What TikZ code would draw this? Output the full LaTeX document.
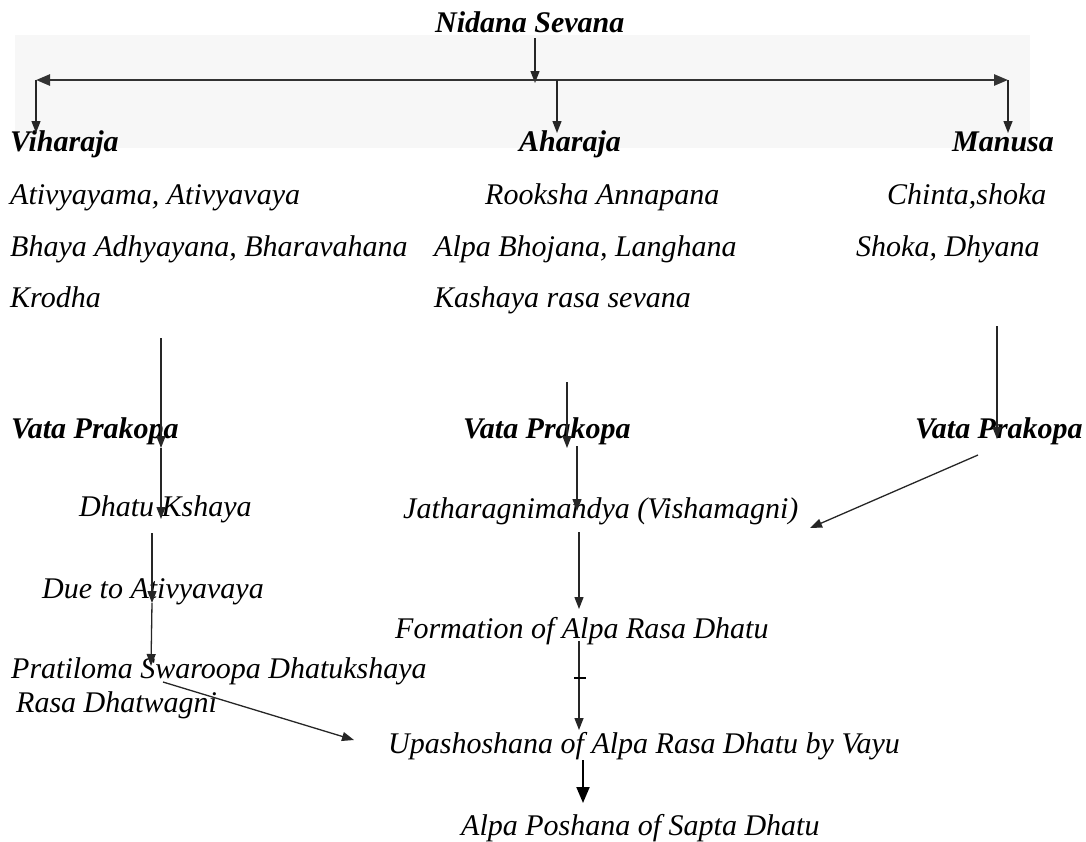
\documentclass[tikz,border=0pt]{standalone}
\usepackage{fontspec}
\setmainfont{Liberation Serif}
\usetikzlibrary{arrows.meta}
\begin{document}
\begin{tikzpicture}[x=1pt,y=-1pt,
  txt/.style={anchor=base west, inner sep=0pt, font=\fontsize{30}{36}\selectfont\itshape},
  hdr/.style={anchor=base west, inner sep=0pt, font=\fontsize{30}{36}\selectfont\bfseries\itshape},
  arr/.style={line width=1.3pt, draw=black!85, -{Triangle[length=12pt,width=9pt]}},
  bigarr/.style={line width=2pt, draw=black, -{Triangle[length=16pt,width=13pt]}},
  hline/.style={line width=2.6pt, draw=black!80, {Triangle[length=14pt,width=11pt]}-{Triangle[length=14pt,width=11pt]}},
]
\useasboundingbox (0,0) rectangle (1086,841);
\fill[black!3] (15,35) rectangle (1030,148);

% top
\node[hdr] (nidana) at (435,32) {Nidana Sevana};
\node[hdr] (vihar) at (10,151) {Viharaja};
\node[hdr] (ahar) at (519,151) {Aharaja};
\node[hdr] (manas) at (952,151) {Manusa};

% lists
\node[txt] (v1) at (10,204) {Ativyayama, Ativyavaya};
\node[txt] (v2) at (10,256) {Bhaya Adhyayana, Bharavahana};
\node[txt] (v3) at (10,307) {Krodha};
\node[txt] (a1) at (485,204) {Rooksha Annapana};
\node[txt] (a2) at (434,256) {Alpa Bhojana, Langhana};
\node[txt] (a3) at (434,307) {Kashaya rasa sevana};
\node[txt] (m1) at (887,204) {Chinta,shoka};
\node[txt] (m2) at (856,256) {Shoka, Dhyana};

% vata prakopa
\node[hdr] (vpl) at (11,438) {Vata Prakopa};
\node[hdr] (vpm) at (463,438) {Vata Prakopa};
\node[hdr] (vpr) at (915,438) {Vata Prakopa};

% left chain
\node[txt] (dk) at (79,516) {Dhatu Kshaya};
\node[txt] (due) at (42,598) {Due to Ativyavaya};
\node[txt] (prat) at (11,678) {Pratiloma Swaroopa Dhatukshaya};
\node[txt] (rasa) at (16,712) {Rasa Dhatwagni};

% middle chain
\node[txt] (jath) at (403,518) {Jatharagnimandya (Vishamagni)};
\node[txt] (form) at (395,638) {Formation of Alpa Rasa Dhatu};
\node[txt] (upa) at (388,753) {Upashoshana of Alpa Rasa Dhatu by Vayu};
\node[txt] (alpa) at (461,835) {Alpa Poshana of Sapta Dhatu};

% coordinates
\coordinate (n1) at (535,38);
\coordinate (n2) at (535,83);
\coordinate (hl) at (36,80);
\coordinate (hm) at (557,80);
\coordinate (hr) at (1008,80);
\coordinate (d1) at (36,133);
\coordinate (d2) at (557,133);
\coordinate (d3) at (1008,133);

\coordinate (l0) at (161,338);
\coordinate (l1) at (161,448);
\coordinate (l2) at (161,519);
\coordinate (l3) at (152,533);
\coordinate (l4) at (152,603);
\coordinate (l5) at (151,666);
\coordinate (g0) at (163,682);
\coordinate (g1) at (354,740);

\coordinate (c0) at (567,382);
\coordinate (c1) at (567,448);
\coordinate (c2) at (577,446);
\coordinate (c3) at (577,511);
\coordinate (c4) at (579,532);
\coordinate (c5) at (579,609);
\coordinate (c6) at (579,641);
\coordinate (c7) at (579,730);
\coordinate (t0) at (574,678);
\coordinate (t1) at (586,678);
\coordinate (c8) at (583,760);
\coordinate (c9) at (583,803);

\coordinate (r0) at (997,326);
\coordinate (r1) at (997,439);
\coordinate (r2) at (978,455);
\coordinate (r3) at (810,528);

% connectors
\draw[arr] (n1) -- (n2);
\draw[hline] (hl) -- (hr);
\draw[arr] (hl) -- (d1);
\draw[arr] (hm) -- (d2);
\draw[arr] (hr) -- (d3);

\draw[arr] (l0) -- (l1);
\draw[arr] (l1) -- (l2);
\draw[arr] (l3) -- (l4);
\draw[arr] (l4) -- (l5);
\draw[arr] (g0) -- (g1);

\draw[arr] (c0) -- (c1);
\draw[arr] (c2) -- (c3);
\draw[arr] (c4) -- (c5);
\draw[arr] (c6) -- (c7);
\draw[line width=1.6pt] (t0) -- (t1);
\draw[bigarr] (c8) -- (c9);

\draw[arr] (r0) -- (r1);
\draw[arr] (r2) -- (r3);
\end{tikzpicture}
\end{document}
